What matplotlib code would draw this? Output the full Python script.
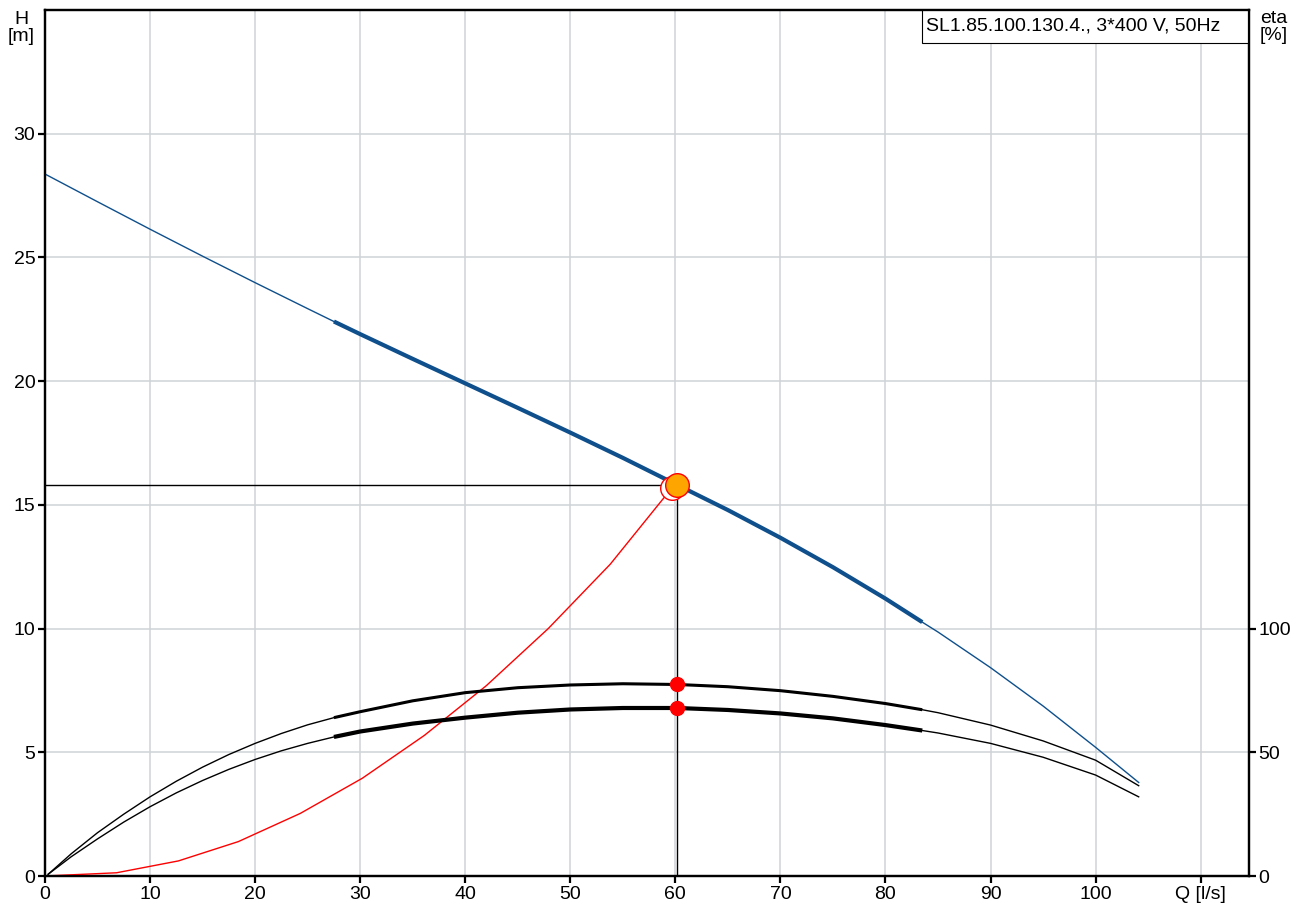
import matplotlib.pyplot as plt
from matplotlib.patches import Rectangle

plt.rcParams['font.family'] = ['Liberation Sans', 'DejaVu Sans']

# pump curve H(Q)
q_pump = [0, 5, 10, 15, 20, 25, 27.5, 30, 35, 40, 45, 50, 55, 60.2, 65, 70, 75,
          80, 83.5, 85, 90, 95, 100, 104.1]
h_pump = [28.37, 27.25, 26.14, 25.05, 23.98, 22.93, 22.41, 21.90, 20.90, 19.91, 18.92,
          17.92, 16.90, 15.8, 14.79, 13.67, 12.48, 11.21, 10.26, 9.86, 8.42, 6.87, 5.20,
          3.78]

# efficiency curves (eta in %)
q_eta = [0.3, 2.5, 5, 7.5, 10, 12.5, 15, 17.5, 20, 22.5, 25, 27.5, 30, 35, 40, 45,
         50, 55, 60.2, 65, 70, 75, 80, 83.5, 85, 90, 95, 100, 104.1]
eta_hyd = [0.7, 9.0, 17.5, 25.0, 32.0, 38.3, 44.0, 49.1, 53.6, 57.6, 61.1, 64.0, 66.4,
           70.8, 74.1, 76.1, 77.2, 77.7, 77.4, 76.5, 74.9, 72.6, 69.7, 67.2, 66.0, 61.0,
           54.6, 46.8, 36.5]
eta_tot = [0.7, 7.8, 15.0, 21.8, 28.0, 33.6, 38.6, 43.1, 47.1, 50.6, 53.6, 56.2, 58.4,
           61.6, 64.0, 66.0, 67.3, 67.9, 67.9, 67.1, 65.7, 63.7, 61.0, 58.8, 57.8, 53.6,
           48.0, 40.8, 32.0]

# system curve
q_sys = [0, 6.8, 12.7, 18.4, 24.3, 30.2, 36.1, 42.0, 47.9, 53.8, 59.7]
h_sys = [0, 0.13, 0.61, 1.39, 2.53, 3.95, 5.68, 7.69, 10.0, 12.6, 15.7]

# duty point
q_duty = 60.2
h_duty = 15.8
eta_duty = [77.4, 67.9]

q_min, q_max = 27.5, 83.5  # recommended operating range

title = 'SL1.85.100.130.4., 3*400 V, 50Hz'
x_ticks = [0, 10, 20, 30, 40, 50, 60, 70, 80, 90, 100, 110]
x_labels = ['0', '10', '20', '30', '40', '50', '60', '70', '80', '90', '100', 'Q [l/s]']

blue = '#0e4f8c'
fs = 14

fig = plt.figure(figsize=(12.96, 9.05), dpi=100)
ax = fig.add_axes([45 / 1296, 29 / 905, 1204 / 1296, 866 / 905])
ax2 = ax.twinx()

ax.set_xlim(0, 114.6)
ax.set_ylim(0, 35)
ax2.set_ylim(0, 350)

ax.set_xticks(x_ticks)
ax.set_xticklabels(x_labels)
ax.set_yticks([0, 5, 10, 15, 20, 25, 30])
ax2.set_yticks([0, 50, 100])

ax.grid(True, color='#d0d3d6', lw=1.1)
ax.set_axisbelow(True)
for a in (ax, ax2):
    for s in a.spines.values():
        s.set_linewidth(1.6)
    a.tick_params(labelsize=fs, width=1.6, length=5, pad=2)

# pump curve, thin over full range and thick in operating range
ax.plot(q_pump, h_pump, color=blue, lw=1.0, zorder=3)
i0, i1 = q_pump.index(q_min), q_pump.index(q_max)
ax.plot(q_pump[i0:i1 + 1], h_pump[i0:i1 + 1], color=blue, lw=3.0, zorder=3,
        solid_capstyle='butt')

# efficiency curves on the right axis
j0, j1 = q_eta.index(q_min), q_eta.index(q_max)
for eta, lw in ((eta_hyd, 2.2), (eta_tot, 3.0)):
    ax2.plot(q_eta, eta, color='black', lw=1.0, zorder=3)
    ax2.plot(q_eta[j0:j1 + 1], eta[j0:j1 + 1], color='black', lw=lw, zorder=3,
             solid_capstyle='butt')

# system curve
ax.plot(q_sys, h_sys, color='red', lw=1.0, zorder=4)

# duty point lines
ax.plot([0, q_duty], [h_duty, h_duty], color='black', lw=1.0, zorder=2)
ax.plot([q_duty, q_duty], [0, h_duty], color='black', lw=1.0, zorder=2)

ax2.plot([q_duty, q_duty], eta_duty, 'o', color='red', ms=10, zorder=5)
ax.plot(q_sys[-1], h_sys[-1], 'o', mfc='white', mec='red', mew=1.0, ms=17, zorder=5)
ax.plot(q_duty, h_duty, 'o', mfc='orange', mec='red', mew=1.0, ms=17, zorder=6)

# axis captions
fig.text(21 / 1296, 1 - 28 / 905, 'H\n[m]', ha='center', va='center', fontsize=fs,
         linespacing=0.95)
fig.text(1274 / 1296, 1 - 27 / 905, 'eta\n[%]', ha='center', va='center', fontsize=fs,
         linespacing=0.95)

# pump name box in the upper right corner
ax.add_patch(Rectangle((0.7284, 0.9619), 0.2716, 0.0381, transform=ax.transAxes,
                       fc='white', ec='black', lw=0.8, zorder=10))
ax.text(0.7317, 0.981, title, transform=ax.transAxes, ha='left', va='center',
        fontsize=fs, zorder=11)

fig.savefig('out.png', dpi=100)
